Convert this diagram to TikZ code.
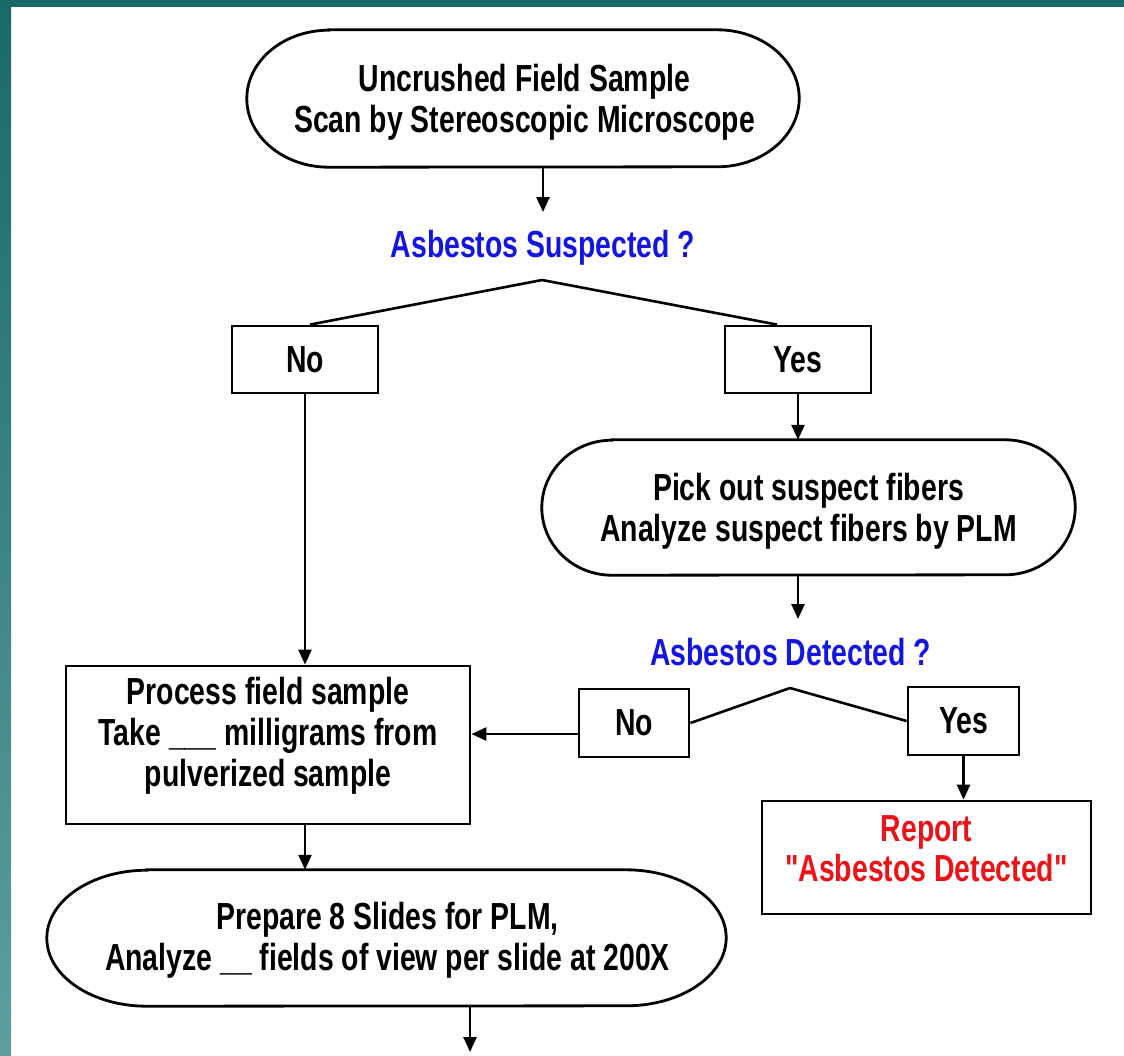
\documentclass[tikz,border=0pt]{standalone}
\usepackage{fontspec}
% condensed bold sans for all labels (plain straight quotes, no TeX ligatures)
\newfontfamily\chartfont[FakeStretch=0.753]{Liberation Sans}
\usetikzlibrary{arrows.meta}

\definecolor{tealdark}{HTML}{1A6969}
\definecolor{teallight}{HTML}{5E9E9E}
\definecolor{qblue}{HTML}{1515E0}
\definecolor{rred}{HTML}{EA1418}

% outline of a terminal: straight top and bottom, elliptical ends
\newcommand\stadium[3]{%
  \draw[outline] ([xshift=#2pt]#1.north west) -- ([xshift=-#2pt]#1.north east)
    arc[start angle=90,end angle=-90,x radius=#2pt,y radius=#3pt]
    -- ([xshift=#2pt]#1.south west)
    arc[start angle=270,end angle=90,x radius=#2pt,y radius=#3pt] -- cycle;}

\begin{document}
\begin{tikzpicture}[x=1pt,y=-1pt,
  txt/.style={font=\chartfont\bfseries\fontsize{37.7}{41}\selectfont, align=center, inner sep=0pt},
  outline/.style={line width=2.8pt},
  box/.style={draw, rectangle, inner sep=0pt, outline, txt},
  term/.style={rectangle, inner sep=0pt},
  conn/.style={line width=2.6pt},
  arr/.style={conn, -{Triangle[length=15pt,width=13pt]}},
  question/.style={txt, text=qblue}
]
\useasboundingbox (0,0) rectangle (1124,1055);
\fill[white] (0,0) rectangle (1124,1055);
\shade[top color=tealdark, bottom color=teallight] (0,0) rectangle (11,1055);
\fill[tealdark] (0,0) rectangle (1124,7);

% start terminal
\node[term, minimum width=552pt, minimum height=137pt] (oval1) at (523,98.5) {};
\stadium{oval1}{82}{68.5}
\node[txt] (oval1txt) at (524.5,102.5)
  {Uncrushed Field Sample\\Scan by Stereoscopic Microscope};

% first decision
\node[question] (qs) at (543,248) {Asbestos Suspected ?};
\coordinate (p1) at (542,280);
\coordinate (s1) at (543,212);

\node[box, minimum width=146pt, minimum height=67pt] (no1) at (305,359.5) {No};
\node[box, minimum width=146pt, minimum height=67pt] (yes1) at (798,359.5) {Yes};

% fibre analysis
\node[term, minimum width=533pt, minimum height=135pt] (oval2) at (808.5,507.5) {};
\stadium{oval2}{70}{67.5}
\node[txt] (oval2txt) at (808.5,511)
  {Pick out suspect fibers\\Analyze suspect fibers by PLM};

% second decision
\node[question] (qd) at (790.5,652) {Asbestos Detected ?};
\coordinate (p2) at (790,688);
\coordinate (s2) at (798,619);

\node[box, minimum width=110pt, minimum height=68pt] (no2) at (634,723) {No};
\node[box, minimum width=111pt, minimum height=68pt] (yes2) at (963.5,721) {Yes};

% sample processing
\node[box, minimum width=404pt, minimum height=158pt] (proc) at (268,745) {};
\node[txt] (proctxt) at (268,736)
  {Process field sample\\Take \_\_\_ milligrams from\\pulverized sample};

% report
\node[box, minimum width=329pt, minimum height=113pt] (report) at (926.5,857.5) {};
\node[txt, text=rred, font=\chartfont\bfseries\fontsize{37.7}{40}\selectfont] (reporttxt) at (926.5,848.5)
  {Report\\"Asbestos Detected"};

% slide preparation
\node[term, minimum width=679pt, minimum height=136pt] (oval3) at (386.5,938) {};
\stadium{oval3}{100}{68}
\node[txt] (oval3txt) at (387.5,940)
  {Prepare 8 Slides for PLM,\\Analyze \_\_ fields of view per slide at 200X};
\coordinate (e) at (470,1052);

% connectors
\draw[arr] (oval1.south -| s1) -- (s1);
\draw[conn] (p1) -- ([xshift=5pt]no1.north);
\draw[conn] (p1) -- ([xshift=-21pt]yes1.north);
\draw[arr] (no1.south) -- (no1.south |- proc.north);
\draw[arr] (yes1.south) -- (yes1.south |- oval2.north);
\draw[arr] (oval2.south -| s2) -- (s2);
\draw[conn] (p2) -- (no2.east);
\draw[conn] (p2) -- (yes2.west);
\draw[arr] ([yshift=-11pt]no2.west) -- ([yshift=-11pt]no2.west -| proc.east);
\draw[arr] (yes2.south) -- (yes2.south |- report.north);
\draw[arr] (proc.south -| no1.south) -- (oval3.north -| no1.south);
\draw[arr] (oval3.south -| e) -- (e);
\end{tikzpicture}
\end{document}
